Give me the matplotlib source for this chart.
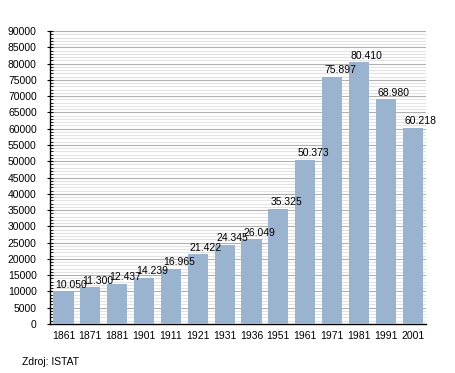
import matplotlib
matplotlib.use("Agg")
import matplotlib.pyplot as plt
from matplotlib.ticker import MultipleLocator

years = ["1861", "1871", "1881", "1901", "1911", "1921", "1931", "1936",
         "1951", "1961", "1971", "1981", "1991", "2001"]
population = [10050, 11300, 12437, 14239, 16965, 21422, 24345, 26049,
              35325, 50373, 75897, 80410, 68980, 60218]
labels = ["10.050", "11.300", "12.437", "14.239", "16.965", "21.422", "24.345",
          "26.049", "35.325", "50.373", "75.897", "80.410", "68.980", "60.218"]

plt.rcParams['font.family'] = ['Liberation Sans', 'DejaVu Sans']

fig = plt.figure(figsize=(4.55, 3.73), dpi=100)
ax = fig.add_axes([50/455, 49/373, 376/455, 293/373])

x = list(range(len(years)))
bw = 0.75
ax.bar(x, population, width=bw, color="#9ab4cf", zorder=3)
for xi, v, lab in zip(x, population, labels):
    ax.text(xi - bw/2 + 0.08, v + 500, lab, ha="left", va="bottom",
            fontsize=7.5, zorder=4)

ax.set_xlim(-0.5, len(years) - 0.5)
ax.set_ylim(0, 90000)
ax.yaxis.set_major_locator(MultipleLocator(5000))
ax.yaxis.set_minor_locator(MultipleLocator(1000))
ax.set_xticks(x)
ax.set_xticklabels(years)
ax.tick_params(axis="x", length=0, labelsize=7.5, pad=5)
ax.tick_params(axis="y", which="major", direction="inout", length=5,
               labelsize=7.5, pad=7)
ax.tick_params(axis="y", which="minor", direction="in", length=2.5)
ax.grid(axis="y", which="minor", color="#e3e3e3", linewidth=0.8, zorder=1)
ax.grid(axis="y", which="major", color="#b0b0b0", linewidth=0.8, zorder=2)
for s in ["top", "right"]:
    ax.spines[s].set_visible(False)
ax.spines["left"].set_linewidth(1)
ax.spines["bottom"].set_linewidth(1)

fig.text(22/455, 1 - 362/373, "Zdroj: ISTAT", fontsize=7.5, va="center", ha="left")

fig.savefig("out.png", dpi=100)
